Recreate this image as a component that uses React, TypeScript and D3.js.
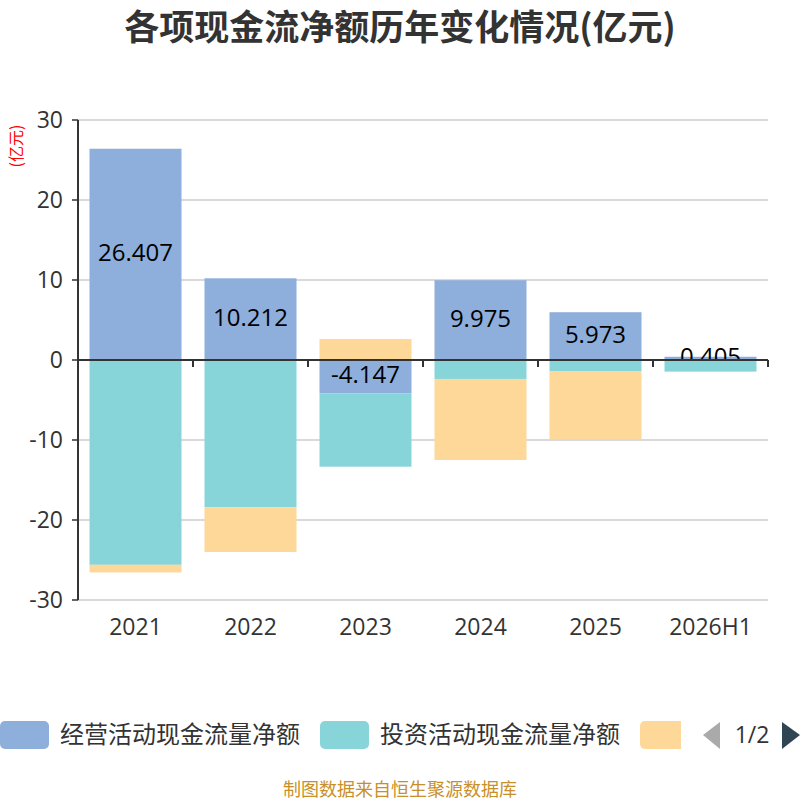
import * as d3 from 'd3'

const years = ['2021', '2022', '2023', '2024', '2025', '2026H1']
const operating = [26.407, 10.212, -4.147, 9.975, 5.973, 0.405]
const investing = [-25.6, -18.4, -9.19, -2.37, -1.38, -1.45]
const financing = [-0.95, -5.6, 2.62, -10.13, -8.5, 0]
const seriesNames = ['经营活动现金流量净额', '投资活动现金流量净额', '筹资活动现金流量净额']
const colors = ['#8eaedb', '#87d5d9', '#fed898']
const yTicks = [30, 20, 10, 0, -10, -20, -30]

const W = 800
const H = 800
const left = 78
const right = 768
const top = 120
const bottom = 600
const font = '"Open Sans", "Noto Sans CJK SC", sans-serif'
const cjk = '"Noto Sans CJK SC", "Microsoft YaHei", sans-serif'

export default function App() {
  const x = d3.scaleBand<string>().domain(years).range([left, right]).paddingInner(0.2).paddingOuter(0.1)
  const xb = d3.scaleBand<string>().domain(years).range([left, right])
  const y = d3.scaleLinear().domain([-30, 30]).range([bottom, top])

  // ECharts-style stacking: positives and negatives stack separately
  const all = [operating, investing, financing]
  const pos = years.map(() => 0)
  const neg = years.map(() => 0)
  const rects = all.map((vals, s) =>
    vals.map((v, i) => {
      let y0: number, y1: number
      if (v >= 0) { y0 = pos[i]; y1 = pos[i] + v; pos[i] = y1 } else { y0 = neg[i]; y1 = neg[i] + v; neg[i] = y1 }
      return { s, i, v, y0, y1 }
    })
  )

  return (
    <svg width={W} height={H} style={{ display: 'block', position: 'absolute', left: 0, top: 0 }}>
      <rect width={W} height={H} fill="#fff" />
      <text x={400} y={28} dy="0.35em" textAnchor="middle" fontFamily={cjk} fontWeight="bold" fontSize={35} fill="#333">
        各项现金流净额历年变化情况(亿元)
      </text>
      <text transform="translate(22,146) rotate(-90)" textAnchor="middle" fontFamily={cjk} fontSize={16} fill="#f00">
        (亿元)
      </text>
      {yTicks.map(t => (
        <g key={t}>
          <line x1={left} x2={right} y1={y(t)} y2={y(t)} stroke="#ccc" strokeWidth={1.5} />
          <line x1={left - 6} x2={left} y1={y(t)} y2={y(t)} stroke="#333" strokeWidth={1.5} />
          <text x={left - 15} y={y(t)} dy="0.35em" textAnchor="end" fontFamily={font} fontSize={23} fill="#333">
            {t}
          </text>
        </g>
      ))}
      {rects.map((series, s) => (
        <g key={s}>
          {series.filter(d => d.v !== 0).map(d => (
            <rect key={d.i} x={x(years[d.i])} width={x.bandwidth()}
              y={Math.min(y(d.y0), y(d.y1))} height={Math.abs(y(d.y0) - y(d.y1))}
              fill={colors[s]} />
          ))}
          {s === 0 && series.map(d => (
            <text key={'l' + d.i} x={(x(years[d.i]) as number) + x.bandwidth() / 2}
              y={(y(d.y0) + y(d.y1)) / 2 - 2} dy="0.35em" textAnchor="middle"
              fontFamily={font} fontSize={24} fill="#000">
              {d.v.toFixed(3)}
            </text>
          ))}
        </g>
      ))}
      <line x1={left} x2={left} y1={top} y2={bottom} stroke="#333" strokeWidth={2} />
      <line x1={left} x2={right} y1={y(0)} y2={y(0)} stroke="#333" strokeWidth={2} />
      {years.map(c => (
        <line key={c} x1={(xb(c) as number) + xb.bandwidth()} x2={(xb(c) as number) + xb.bandwidth()}
          y1={y(0)} y2={y(0) + 7} stroke="#333" strokeWidth={2} />
      ))}
      {years.map(c => (
        <text key={c} x={(xb(c) as number) + xb.bandwidth() / 2} y={635} textAnchor="middle"
          fontFamily={font} fontSize={23} fill="#333">
          {c}
        </text>
      ))}
      <g>
        <rect x={0} y={721} width={49} height={28} rx={5} fill={colors[0]} />
        <text x={60} y={735} dy="0.35em" fontFamily={cjk} fontSize={24} fill="#333">{seriesNames[0]}</text>
        <rect x={320} y={721} width={49} height={28} rx={5} fill={colors[1]} />
        <text x={380} y={735} dy="0.35em" fontFamily={cjk} fontSize={24} fill="#333">{seriesNames[1]}</text>
        <clipPath id="lg3"><rect x={630} y={715} width={51} height={40} /></clipPath>
        <rect x={640} y={721} width={49} height={28} rx={5} fill={colors[2]} clipPath="url(#lg3)" />
        <path d="M720,722 L703,735 L720,749 Z" fill="#aaa" />
        <text x={752} y={735} dy="0.35em" textAnchor="middle" fontFamily={font} fontSize={23} fill="#333">1/2</text>
        <path d="M782,722 L800,735 L782,749 Z" fill="#2f4554" />
      </g>
      <text x={400} y={796} textAnchor="middle" fontFamily={cjk} fontSize={18} fill="#c8902a">
        制图数据来自恒生聚源数据库
      </text>
    </svg>
  )
}
